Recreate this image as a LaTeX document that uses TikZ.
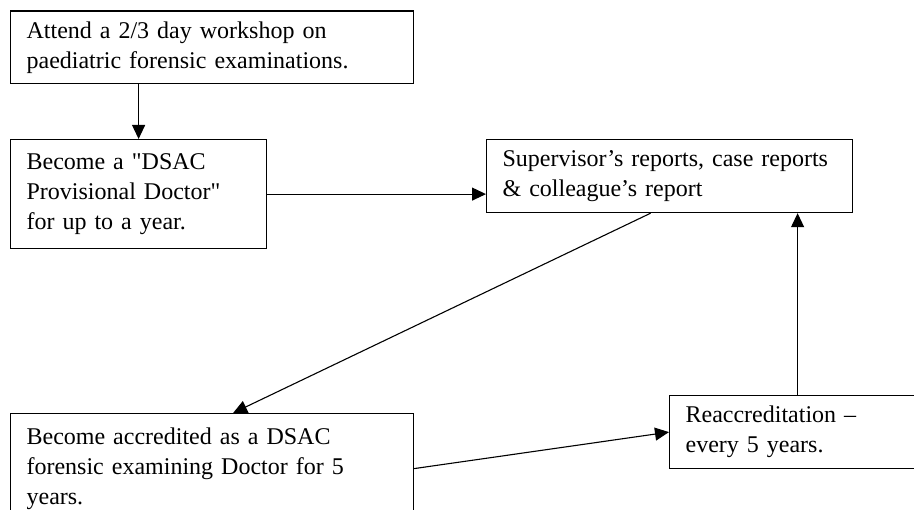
\documentclass[tikz,border=0pt]{standalone}
\usepackage{fontspec}
\setmainfont{Liberation Serif}[Ligatures=TeXOff]
\usetikzlibrary{positioning, arrows.meta}

\begin{document}
\begin{tikzpicture}[x=1pt, y=-1pt,
        box/.style={draw, line width=1.2pt, anchor=north west, align=left, inner xsep=16pt, inner ysep=0pt, font=\fontsize{24}{30}\selectfont},
        link/.style={-{Triangle[length=14pt, width=13pt]}, line width=1.1pt}]
      \useasboundingbox (0,0) rectangle (914,510);
      \clip (0,0) rectangle (914,510);
      \node[box, text width=371pt, minimum height=72.5pt] (b1) at (10,10.5) {Attend a 2/3 day workshop on\\paediatric forensic examinations.};
      \node[box, text width=224pt, minimum height=109pt] (b2) at (10,139) {Become a "DSAC\\Provisional Doctor"\\for up to a year.};
      \node[box, text width=334pt, minimum height=73pt] (b3) at (486,139) {Supervisor’s reports, case reports\\\& colleague’s report};
      \node[box, text width=371pt, minimum height=110pt] (b4) at (10,413) {Become accredited as a DSAC\\forensic examining Doctor for 5\\years.};
      \node[box, text width=224pt, minimum height=73pt] (b5) at (669,395) {Reaccreditation –\\every 5 years.};

      \draw[link] (b2.north |- b1.south) -- (b2.north);
      \draw[link] (b2.east) -- (b3.west |- b2.east);
      \draw[link] ([xshift=-19pt]b3.south) -- ([xshift=21pt]b4.north);
      \draw[link] (b4.east) -- (b5.west);
      \draw[link] (b5.north) -- (b5.north |- b3.south);
    \end{tikzpicture}
\end{document}
